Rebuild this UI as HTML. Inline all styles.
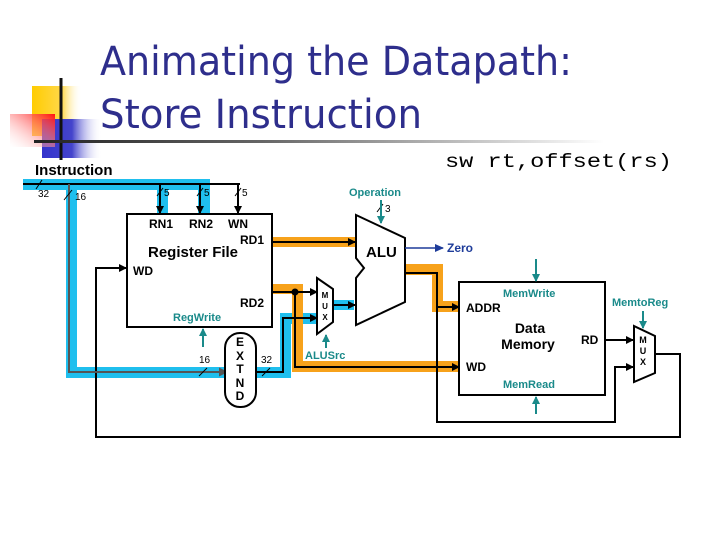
<!DOCTYPE html>
<html><head><meta charset="utf-8"><style>
html,body{margin:0;padding:0;background:#fff;width:720px;height:540px;overflow:hidden}
svg{display:block}
text{font-family:"Liberation Sans",Arial,sans-serif}
.b{font-weight:bold;font-size:12px;fill:#000}
.t{font-weight:bold;font-size:11px;fill:#1a8a8a}
.s{font-size:10px;fill:#000}
</style></head><body>
<svg width="720" height="540" viewBox="0 0 720 540" xmlns="http://www.w3.org/2000/svg">
<defs>
<linearGradient id="gy" x1="0" x2="1"><stop offset="0" stop-color="#ffcc00"/><stop offset="0.6" stop-color="#ffd84a"/><stop offset="1" stop-color="#fff" stop-opacity="0"/></linearGradient>
<linearGradient id="gb" x1="0" x2="1"><stop offset="0" stop-color="#3333cc"/><stop offset="0.5" stop-color="#4444cc"/><stop offset="1" stop-color="#fff" stop-opacity="0"/></linearGradient>
<linearGradient id="gr" x1="1" x2="0" y1="0" y2="1"><stop offset="0" stop-color="#ff1010"/><stop offset="1" stop-color="#fff" stop-opacity="0.2"/></linearGradient>
<linearGradient id="gl" x1="0" x2="1"><stop offset="0" stop-color="#222"/><stop offset="0.4" stop-color="#666"/><stop offset="1" stop-color="#fff"/></linearGradient>
<marker id="a" markerWidth="8" markerHeight="8" refX="7" refY="4" orient="auto" markerUnits="userSpaceOnUse"><path d="M0,0L8,4L0,8z" fill="#000"/></marker>
<marker id="at" markerWidth="8" markerHeight="8" refX="7" refY="4" orient="auto" markerUnits="userSpaceOnUse"><path d="M0,0L8,4L0,8z" fill="#1a8a8a"/></marker>
<marker id="ab" markerWidth="9" markerHeight="8" refX="8" refY="4" orient="auto" markerUnits="userSpaceOnUse"><path d="M0,0L9,4L0,8z" fill="#1e3c9a"/></marker>
<marker id="ag" markerWidth="9" markerHeight="9" refX="8" refY="4.5" orient="auto" markerUnits="userSpaceOnUse"><path d="M0,0L9,4.5L0,9z" fill="#555"/></marker>
</defs>
<!-- logo -->
<rect x="32" y="86" width="50" height="50" fill="url(#gy)"/>
<rect x="42" y="119" width="60" height="39" fill="url(#gb)"/>
<rect x="10" y="114" width="45" height="33" fill="url(#gr)"/>
<line x1="61" y1="78" x2="61" y2="160" stroke="#111" stroke-width="3"/>
<rect x="34" y="140" width="570" height="3" fill="url(#gl)"/>
<!-- title -->
<text x="100" y="75" font-size="40" fill="#2e2e8c" textLength="472" lengthAdjust="spacingAndGlyphs" style="font-family:'DejaVu Sans',sans-serif">Animating the Datapath:</text>
<text x="100" y="128" font-size="40" fill="#2e2e8c" textLength="322" lengthAdjust="spacingAndGlyphs" style="font-family:'DejaVu Sans',sans-serif">Store Instruction</text>
<text x="35" y="175" font-size="15" font-weight="bold">Instruction</text>
<text x="445" y="167" font-size="19" style="font-family:'Liberation Mono',monospace" textLength="227" lengthAdjust="spacingAndGlyphs">sw rt,offset(rs)</text>
<!-- blue highlight -->
<g fill="#1fbfee">
<rect x="23" y="179" width="187" height="11"/>
<rect x="66" y="179" width="11" height="199"/>
<rect x="66" y="367" width="162" height="11"/>
<rect x="157" y="179" width="11" height="35"/>
<rect x="198" y="179" width="12" height="35"/>
<rect x="255" y="367" width="36" height="11"/>
<rect x="280" y="313" width="11" height="65"/>
<rect x="280" y="313" width="40" height="11"/>
<rect x="334" y="300" width="20" height="10"/>
</g>
<!-- orange highlight -->
<g fill="#f7a21b">
<rect x="272" y="237" width="83" height="10"/>
<rect x="272" y="284" width="31" height="10"/>
<rect x="292" y="284" width="11" height="88"/>
<rect x="292" y="361" width="168" height="11"/>
<rect x="405" y="264" width="38" height="11"/>
<rect x="432" y="264" width="11" height="48"/>
<rect x="432" y="301" width="28" height="11"/>
</g>
<!-- black wiring -->
<g stroke="#000" stroke-width="2" fill="none">
<line x1="23" y1="184" x2="240" y2="184"/>
<line x1="160" y1="184" x2="160" y2="213" marker-end="url(#a)"/>
<line x1="200" y1="184" x2="200" y2="213" marker-end="url(#a)"/>
<line x1="238" y1="184" x2="238" y2="213" marker-end="url(#a)"/>
<line x1="272" y1="242" x2="355" y2="242" marker-end="url(#a)"/>
<polyline points="272,292 317,292" marker-end="url(#a)"/>
<polyline points="295,292 295,367 459,367" marker-end="url(#a)"/>
<polyline points="255,372 283,372 283,318 317,318" marker-end="url(#a)"/>
<line x1="334" y1="305" x2="355" y2="305" marker-end="url(#a)"/>
<polyline points="405,273 437,273 437,307 459,307" marker-end="url(#a)"/>
<polyline points="437,307 437,422 615,422 615,367 633,367" marker-end="url(#a)"/>
<line x1="605" y1="340" x2="633" y2="340" marker-end="url(#a)"/>
<polyline points="655,354 680,354 680,437 96,437 96,268 126,268" marker-end="url(#a)"/>
</g>
<polyline points="69,184 69,372 227,372" stroke="#555" stroke-width="2" fill="none" marker-end="url(#ag)"/>
<circle cx="295" cy="292" r="3.5" fill="#000"/>
<!-- bit slashes -->
<g stroke="#000" stroke-width="1">
<line x1="36" y1="189" x2="42" y2="180"/><line x1="64" y1="200" x2="72" y2="190"/>
<line x1="157" y1="196" x2="163" y2="188"/><line x1="197" y1="196" x2="203" y2="188"/><line x1="235" y1="196" x2="241" y2="188"/>
<line x1="199" y1="376" x2="207" y2="368"/><line x1="262" y1="376" x2="270" y2="368"/>
<line x1="377" y1="212" x2="383" y2="204"/>
</g>
<g class="s">
<text x="38" y="197">32</text><text x="75" y="200">16</text>
<text x="164" y="196">5</text><text x="204" y="196">5</text><text x="242" y="196">5</text>
<text x="199" y="363">16</text><text x="261" y="363">32</text><text x="385" y="212">3</text>
</g>
<!-- register file -->
<rect x="127" y="214" width="145" height="113" fill="#fff" stroke="#000" stroke-width="2"/>
<text class="b" x="149" y="228">RN1</text><text class="b" x="189" y="228">RN2</text><text class="b" x="228" y="228">WN</text>
<text class="b" x="240" y="244">RD1</text>
<text x="148" y="257" font-size="15" font-weight="bold">Register File</text>
<text class="b" x="133" y="275">WD</text><text class="b" x="240" y="307">RD2</text>
<text class="t" x="173" y="321">RegWrite</text>
<line x1="203" y1="347" x2="203" y2="329" stroke="#1a8a8a" stroke-width="2" marker-end="url(#at)"/>
<!-- EXTND -->
<rect x="225" y="333" width="31" height="74" rx="15" fill="#fff" stroke="#000" stroke-width="2"/>
<g class="b" text-anchor="middle"><text x="240" y="346">E</text><text x="240" y="360">X</text><text x="240" y="373">T</text><text x="240" y="387">N</text><text x="240" y="400">D</text></g>
<!-- mux1 -->
<polygon points="317,278 333,289 333,322 317,334" fill="#fff" stroke="#000" stroke-width="2"/>
<g font-size="8" font-weight="bold" text-anchor="middle"><text x="325" y="298">M</text><text x="325" y="309">U</text><text x="325" y="320">X</text></g>
<text class="t" x="305" y="359">ALUSrc</text>
<line x1="326" y1="348" x2="326" y2="335" stroke="#1a8a8a" stroke-width="2" marker-end="url(#at)"/>
<!-- ALU -->
<polygon points="356,215 405,238 405,302 356,325 356,278 364,268 356,258" fill="#fff" stroke="#000" stroke-width="2"/>
<text x="366" y="257" font-size="15" font-weight="bold">ALU</text>
<text class="t" x="349" y="196">Operation</text>
<line x1="381" y1="200" x2="381" y2="223" stroke="#1a8a8a" stroke-width="2" marker-end="url(#at)"/>
<line x1="405" y1="248" x2="443" y2="248" stroke="#1e3c9a" stroke-width="1.5" marker-end="url(#ab)"/>
<text x="447" y="252" font-size="12" font-weight="bold" fill="#1e3c9a">Zero</text>
<!-- data memory -->
<rect x="459" y="282" width="146" height="113" fill="#fff" stroke="#000" stroke-width="2"/>
<text class="t" x="503" y="297">MemWrite</text>
<line x1="536" y1="259" x2="536" y2="281" stroke="#1a8a8a" stroke-width="2" marker-end="url(#at)"/>
<text class="b" x="466" y="312">ADDR</text>
<text x="530" y="333" font-size="14" font-weight="bold" text-anchor="middle">Data</text>
<text x="528" y="349" font-size="14" font-weight="bold" text-anchor="middle">Memory</text>
<text class="b" x="581" y="344">RD</text>
<text class="b" x="466" y="371">WD</text>
<text class="t" x="503" y="388">MemRead</text>
<line x1="536" y1="414" x2="536" y2="397" stroke="#1a8a8a" stroke-width="2" marker-end="url(#at)"/>
<!-- mux2 -->
<polygon points="634,326 655,336 655,373 634,382" fill="#fff" stroke="#000" stroke-width="2"/>
<g font-size="9" font-weight="bold" text-anchor="middle"><text x="643" y="343">M</text><text x="643" y="354">U</text><text x="643" y="365">X</text></g>
<text class="t" x="612" y="306">MemtoReg</text>
<line x1="643" y1="311" x2="643" y2="328" stroke="#1a8a8a" stroke-width="2" marker-end="url(#at)"/>
</svg>
</body></html>
